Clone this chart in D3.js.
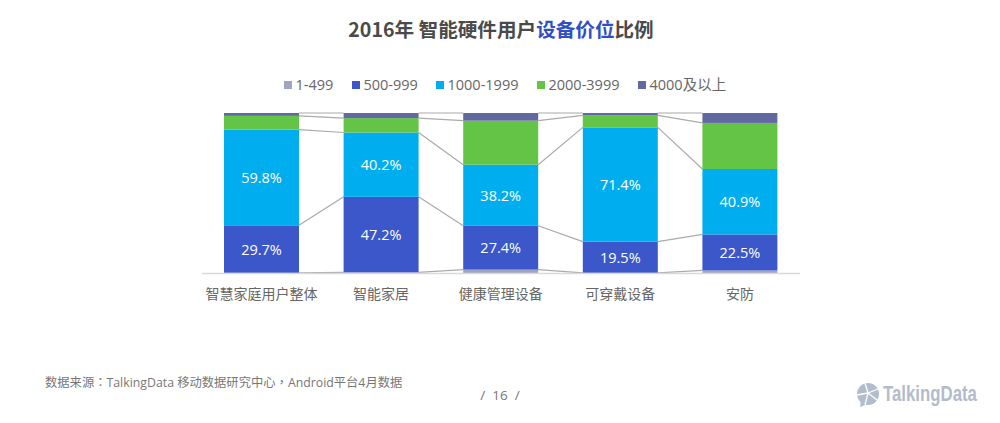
<!DOCTYPE html>
<html><head><meta charset="utf-8">
<script src="https://cdnjs.cloudflare.com/ajax/libs/d3/7.8.5/d3.min.js"></script>
<style>html,body{margin:0;padding:0;background:#fff}svg{display:block}
text{font-family:"Open Sans","Noto Sans CJK SC",sans-serif}</style></head><body>
<svg id="c" width="1000" height="423"></svg>
<script>
const categories=["智慧家庭用户整体","智能家居","健康管理设备","可穿戴设备","安防"];
const seriesNames=["1-499","500-999","1000-1999","2000-3999","4000及以上"];
const seriesColors=["#a0a4c0","#3b57c9","#00aeef","#64c446","#6368a0"];
const s1=[0.1,0.4,2.1,0.1,1.6];
const s2=[29.7,47.2,27.4,19.5,22.5];
const s3=[59.8,40.2,38.2,71.4,40.9];
const s4=[8.6,9.0,27.5,7.5,28.8];
const s5=[1.8,3.2,4.8,1.5,6.2];
const labelled=[1,2];
const seriesValues=[s1,s2,s3,s4,s5];
const rows=categories.map((c,i)=>{const r={c};seriesNames.forEach((n,j)=>r[n]=seriesValues[j][i]);return r;});
const stacked=d3.stack().keys(seriesNames)(rows);

const svg=d3.select("#c");
const x=d3.scaleBand().domain(categories).range([201.7,799.7]).paddingInner(.373).paddingOuter(.1865);
const y=d3.scaleLinear().domain([0,100]).range([273,113]);

// title
const t=svg.append("text").attr("x",501).attr("y",37).attr("text-anchor","middle")
 .attr("font-size",19.6).attr("font-weight",700).attr("fill","#4a4a4a")
 .style("font-family",'"Noto Sans CJK SC",sans-serif');
t.append("tspan").text("2016年 智能硬件用户");
t.append("tspan").attr("fill","#2f4fc4").text("设备价位");
t.append("tspan").text("比例");

// legend
const legendX=[284,352,436,537,638];
const lg=svg.append("g").selectAll("g").data(seriesNames).join("g")
 .attr("transform",(d,i)=>`translate(${legendX[i]},85)`);
lg.append("rect").attr("x",0).attr("y",-4).attr("width",8).attr("height",8).attr("fill",(d,i)=>seriesColors[i]);
lg.append("text").attr("x",11.5).attr("y",5).attr("font-size",14.5).attr("fill","#666").text(d=>d);

// connectors
const cg=svg.append("g");
const levels=stacked.map(s=>s.map(d=>d[1]));
levels.forEach(l=>{
  for(let i=0;i<categories.length-1;i++){
    cg.append("line")
      .attr("x1",x(categories[i])+x.bandwidth()).attr("y1",y(l[i]))
      .attr("x2",x(categories[i+1])).attr("y2",y(l[i+1]))
      .attr("stroke","#aaaaaa").attr("stroke-width",1.2);
  }
});

// bars
stacked.forEach((s,j)=>{
  svg.append("g").selectAll("rect").data(s).join("rect")
    .attr("x",d=>x(d.data.c)).attr("width",x.bandwidth())
    .attr("y",d=>y(d[1])).attr("height",d=>y(d[0])-y(d[1]))
    .attr("fill",seriesColors[j]);
});

// value labels
labelled.forEach(j=>{
  svg.append("g").selectAll("text").data(stacked[j]).join("text")
    .attr("x",d=>x(d.data.c)+x.bandwidth()/2).attr("y",d=>y((d[0]+d[1])/2)+5.5)
    .attr("text-anchor","middle").attr("font-size",14.5).attr("fill","#fff")
    .text(d=>(d[1]-d[0]).toFixed(1)+"%");
});

// axis
const ax=svg.append("g").attr("transform","translate(0,273)")
  .call(d3.axisBottom(x).tickSize(0).tickPadding(16));
ax.select(".domain").attr("stroke","#d9d9d9").attr("stroke-width",1.5);
ax.selectAll("text").attr("font-size",14).attr("fill","#666").style("font-family",'"Noto Sans CJK SC",sans-serif');

// footer
const f=svg.append("text").attr("x",45).attr("y",387).attr("font-size",12.3).attr("fill","#777");
[["数据来源",0],["：",1],["TalkingData 移动数据研究中心",0],["，",1],["Android平台4月数据",0]].forEach(([s,p])=>{
  const ts=f.append("tspan").text(s);
  if(p) ts.style("font-family",'"Noto Sans CJK TC",sans-serif');
});
svg.append("text").attr("x",500).attr("y",400).attr("text-anchor","middle").attr("font-size",13.5)
 .attr("fill","#777").attr("xml:space","preserve").text("/  16  /");

// logo
const logo=svg.append("g").attr("transform","translate(868,394)");
logo.append("circle").attr("r",11).attr("fill","#b3bccb");
logo.append("path").attr("d","M-7,6 L-8,13 L0,10Z").attr("fill","#b3bccb");
["M0,-1 L-3,-11","M0,-1 L10,-5","M0,-1 L9,6","M0,-1 L-3,11","M0,-1 L-11,1"].forEach(p=>
  logo.append("path").attr("d",p).attr("stroke","#fff").attr("stroke-width",1.3).attr("fill","none"));
svg.append("text").attr("transform","translate(883,401) scale(1,1.33)").attr("font-size",16.8).attr("font-weight",700)
 .attr("fill","#b3bccb")
 .style("font-family",'"Liberation Sans",sans-serif').text("TalkingData");
</script></body></html>
